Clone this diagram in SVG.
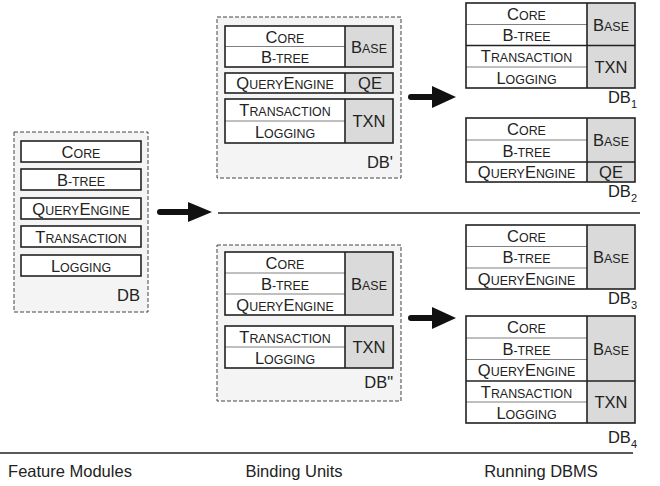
<svg xmlns="http://www.w3.org/2000/svg" width="660" height="486" viewBox="0 0 660 486">
<style>
.dash{fill:#f4f4f4;stroke:#444;stroke-width:1;stroke-dasharray:4 2}
.w{fill:#fff}
.g{fill:#dadada}
.o{fill:none;stroke:#222;stroke-width:1.6}
.gd{stroke:#808080;stroke-width:1}
.bd{stroke:#222;stroke-width:1.6}
.t{font-family:"Liberation Sans",Arial,Helvetica,sans-serif;font-size:16.5px;fill:#222;text-anchor:middle}
.e{text-anchor:end}
.s{font-size:12.4px}
.sub{font-size:11px}
.arr{stroke:#111;stroke-width:6;stroke-linecap:round;fill:none}
.head{fill:#111}
.rule{stroke:#222;stroke-width:1.4}
</style>
<rect width="660" height="486" fill="#fff"/>

<g id="db">
<rect class="dash" x="14" y="132" width="134" height="180"/>
<rect class="w" x="21" y="141" width="120" height="21"/><rect class="o" x="21" y="141" width="120" height="21"/>
<rect class="w" x="21" y="169" width="120" height="21"/><rect class="o" x="21" y="169" width="120" height="21"/>
<rect class="w" x="21" y="198" width="120" height="21"/><rect class="o" x="21" y="198" width="120" height="21"/>
<rect class="w" x="21" y="226" width="120" height="21"/><rect class="o" x="21" y="226" width="120" height="21"/>
<rect class="w" x="21" y="255" width="120" height="21"/><rect class="o" x="21" y="255" width="120" height="21"/>
<text class="t" x="81" y="157.5">C<tspan class="s">ORE</tspan></text>
<text class="t" x="81" y="185.5">B<tspan class="s">-TREE</tspan></text>
<text class="t" x="81" y="214.5">Q<tspan class="s">UERY</tspan>E<tspan class="s">NGINE</tspan></text>
<text class="t" x="81" y="242.5">T<tspan class="s">RANSACTION</tspan></text>
<text class="t" x="81" y="271.5">L<tspan class="s">OGGING</tspan></text>
<text class="t e" x="140" y="301">DB</text>
</g>

<g id="dbprime">
<rect class="dash" x="217" y="17" width="184" height="161"/>
<rect class="w" x="225" y="26" width="168" height="41"/><rect class="g" x="345" y="26" width="48" height="41"/>
<line class="gd" x1="225" y1="46.5" x2="345" y2="46.5"/>
<line class="bd" x1="345" y1="26" x2="345" y2="67"/>
<rect class="o" x="225" y="26" width="168" height="41"/>
<rect class="w" x="225" y="73" width="168" height="20"/><rect class="g" x="345" y="73" width="48" height="20"/>
<line class="bd" x1="345" y1="73" x2="345" y2="93"/>
<rect class="o" x="225" y="73" width="168" height="20"/>
<rect class="w" x="225" y="99" width="168" height="44"/><rect class="g" x="345" y="99" width="48" height="44"/>
<line class="gd" x1="225" y1="121" x2="345" y2="121"/>
<line class="bd" x1="345" y1="99" x2="345" y2="143"/>
<rect class="o" x="225" y="99" width="168" height="44"/>
<text class="t" x="285" y="42.5">C<tspan class="s">ORE</tspan></text>
<text class="t" x="285" y="63">B<tspan class="s">-TREE</tspan></text>
<text class="t" x="369" y="52.5">B<tspan class="s">ASE</tspan></text>
<text class="t" x="285" y="89">Q<tspan class="s">UERY</tspan>E<tspan class="s">NGINE</tspan></text>
<text class="t" x="370" y="89">QE</text>
<text class="t" x="285" y="116">T<tspan class="s">RANSACTION</tspan></text>
<text class="t" x="285" y="138">L<tspan class="s">OGGING</tspan></text>
<text class="t" x="369" y="127">TXN</text>
<text class="t e" x="393" y="168">DB'</text>
</g>

<g id="dbdprime">
<rect class="dash" x="217" y="245" width="184" height="156"/>
<rect class="w" x="225" y="252" width="168" height="63"/><rect class="g" x="345" y="252" width="48" height="63"/>
<line class="gd" x1="225" y1="273" x2="345" y2="273"/>
<line class="gd" x1="225" y1="294" x2="345" y2="294"/>
<line class="bd" x1="345" y1="252" x2="345" y2="315"/>
<rect class="o" x="225" y="252" width="168" height="63"/>
<rect class="w" x="225" y="326" width="168" height="42"/><rect class="g" x="345" y="326" width="48" height="42"/>
<line class="gd" x1="225" y1="347" x2="345" y2="347"/>
<line class="bd" x1="345" y1="326" x2="345" y2="368"/>
<rect class="o" x="225" y="326" width="168" height="42"/>
<text class="t" x="285" y="268.5">C<tspan class="s">ORE</tspan></text>
<text class="t" x="285" y="289.5">B<tspan class="s">-TREE</tspan></text>
<text class="t" x="285" y="310.5">Q<tspan class="s">UERY</tspan>E<tspan class="s">NGINE</tspan></text>
<text class="t" x="369" y="289.5">B<tspan class="s">ASE</tspan></text>
<text class="t" x="285" y="342.5">T<tspan class="s">RANSACTION</tspan></text>
<text class="t" x="285" y="363.5">L<tspan class="s">OGGING</tspan></text>
<text class="t" x="369" y="353">TXN</text>
<text class="t e" x="393" y="388">DB"</text>
</g>

<g id="db1">
<rect class="w" x="466" y="3" width="169" height="85"/><rect class="g" x="587" y="3" width="48" height="85"/>
<line class="gd" x1="466" y1="24.5" x2="587" y2="24.5"/>
<line class="gd" x1="466" y1="67" x2="587" y2="67"/>
<line class="bd" x1="466" y1="45.5" x2="635" y2="45.5"/>
<line class="bd" x1="587" y1="3" x2="587" y2="88"/>
<rect class="o" x="466" y="3" width="169" height="85"/>
<text class="t" x="526.5" y="19.5">C<tspan class="s">ORE</tspan></text>
<text class="t" x="526.5" y="41">B<tspan class="s">-TREE</tspan></text>
<text class="t" x="611" y="30.5">B<tspan class="s">ASE</tspan></text>
<text class="t" x="526.5" y="62">T<tspan class="s">RANSACTION</tspan></text>
<text class="t" x="526.5" y="83.5">L<tspan class="s">OGGING</tspan></text>
<text class="t" x="611" y="73">TXN</text>
<text class="t e" x="637" y="103">DB<tspan class="sub" dy="5">1</tspan></text>
</g>

<g id="db2">
<rect class="w" x="466" y="118" width="169" height="64"/><rect class="g" x="587" y="118" width="48" height="64"/>
<line class="gd" x1="466" y1="140" x2="587" y2="140"/>
<line class="bd" x1="466" y1="162" x2="635" y2="162"/>
<line class="bd" x1="587" y1="118" x2="587" y2="182"/>
<rect class="o" x="466" y="118" width="169" height="64"/>
<text class="t" x="526.5" y="135">C<tspan class="s">ORE</tspan></text>
<text class="t" x="526.5" y="157">B<tspan class="s">-TREE</tspan></text>
<text class="t" x="611" y="146">B<tspan class="s">ASE</tspan></text>
<text class="t" x="526.5" y="178">Q<tspan class="s">UERY</tspan>E<tspan class="s">NGINE</tspan></text>
<text class="t" x="611" y="178">QE</text>
<text class="t e" x="637" y="197">DB<tspan class="sub" dy="5">2</tspan></text>
</g>

<g id="db3">
<rect class="w" x="466" y="225" width="169" height="64"/><rect class="g" x="587" y="225" width="48" height="64"/>
<line class="gd" x1="466" y1="246.5" x2="587" y2="246.5"/>
<line class="gd" x1="466" y1="268" x2="587" y2="268"/>
<line class="bd" x1="587" y1="225" x2="587" y2="289"/>
<rect class="o" x="466" y="225" width="169" height="64"/>
<text class="t" x="526.5" y="241.5">C<tspan class="s">ORE</tspan></text>
<text class="t" x="526.5" y="263">B<tspan class="s">-TREE</tspan></text>
<text class="t" x="526.5" y="284.5">Q<tspan class="s">UERY</tspan>E<tspan class="s">NGINE</tspan></text>
<text class="t" x="611" y="263">B<tspan class="s">ASE</tspan></text>
<text class="t e" x="637" y="304">DB<tspan class="sub" dy="5">3</tspan></text>
</g>

<g id="db4">
<rect class="w" x="466" y="316" width="169" height="107"/><rect class="g" x="587" y="316" width="48" height="107"/>
<line class="gd" x1="466" y1="338" x2="587" y2="338"/>
<line class="gd" x1="466" y1="359.5" x2="587" y2="359.5"/>
<line class="gd" x1="466" y1="402" x2="587" y2="402"/>
<line class="bd" x1="466" y1="381" x2="635" y2="381"/>
<line class="bd" x1="587" y1="316" x2="587" y2="423"/>
<rect class="o" x="466" y="316" width="169" height="107"/>
<text class="t" x="526.5" y="333">C<tspan class="s">ORE</tspan></text>
<text class="t" x="526.5" y="355">B<tspan class="s">-TREE</tspan></text>
<text class="t" x="526.5" y="376">Q<tspan class="s">UERY</tspan>E<tspan class="s">NGINE</tspan></text>
<text class="t" x="611" y="354.5">B<tspan class="s">ASE</tspan></text>
<text class="t" x="526.5" y="397.5">T<tspan class="s">RANSACTION</tspan></text>
<text class="t" x="526.5" y="418.5">L<tspan class="s">OGGING</tspan></text>
<text class="t" x="611" y="408">TXN</text>
<text class="t e" x="637" y="443">DB<tspan class="sub" dy="5">4</tspan></text>
</g>

<g id="connectors">
<line class="arr" x1="160" y1="212" x2="192" y2="212"/>
<polygon class="head" points="188,202 212,212 188,222"/>
<line class="rule" x1="218" y1="213" x2="640" y2="213"/>
<line class="arr" x1="411" y1="97" x2="436" y2="97"/>
<polygon class="head" points="432,86 456,97 432,108"/>
<line class="arr" x1="411" y1="318" x2="436" y2="318"/>
<polygon class="head" points="432,307 456,318 432,329"/>
</g>

<g id="axis">
<line class="rule" x1="0" y1="453" x2="633" y2="453"/>
<text class="t" x="70" y="477">Feature Modules</text>
<text class="t" x="294" y="477">Binding Units</text>
<text class="t" x="541" y="477">Running DBMS</text>
</g>
</svg>
